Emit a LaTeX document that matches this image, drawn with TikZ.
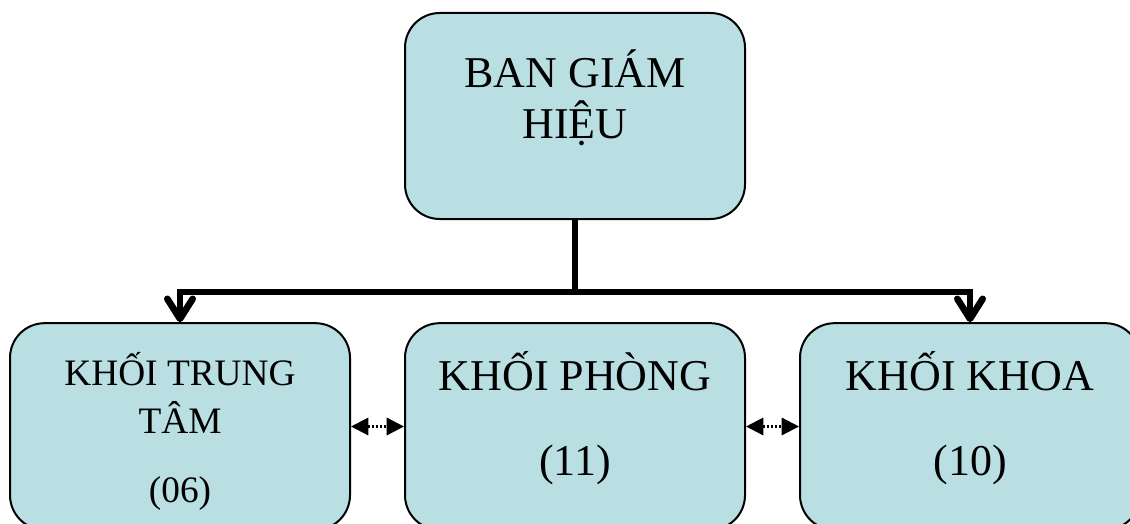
\documentclass[tikz,border=0pt]{standalone}
\usepackage{fontspec}
\setmainfont{Liberation Serif}
\usepackage{tikz}
\usetikzlibrary{arrows.meta,positioning}
\definecolor{boxc}{HTML}{B9DFE3}
\tikzset{
  box/.style={draw=black,line width=1.5pt,rounded corners=26pt,fill=boxc,minimum width=255pt,minimum height=155pt,inner sep=0pt},
  big/.style={font=\fontsize{33}{39}\selectfont,anchor=base,inner sep=0pt},
  small/.style={font=\fontsize{28}{33}\selectfont,anchor=base,inner sep=0pt},
  trunk/.style={line width=4.5pt},
  dn/.style={trunk,-{Straight Barb[length=15pt,width=19pt,line width=5pt,round]}},
  dar/.style={{Triangle[length=13pt,width=13pt]}-{Triangle[length=13pt,width=13pt]},line width=1.6pt,dash pattern=on 1.5pt off 1.5pt}
}

\begin{document}
\begin{tikzpicture}[x=0.75pt,y=-0.75pt]
\useasboundingbox (0,0) rectangle (1130,524);
\clip (0,0) rectangle (1130,524);
% boxes
\node[box,minimum height=154.5pt] (bgh) at (575,116) {};
\node[box] (kttt) at (180,426.5) {};
\node[box] (kp) at (575,426.5) {};
\node[box] (kk) at (970,426.5) {};
% texts
\node[big] (bgh1) at (575,88) {BAN GIÁM};
\node[big] (bgh2) at (575,138) {HIỆU};
\node[small] (kttt1) at (180,385) {KHỐI TRUNG};
\node[small] (kttt2) at (180,433) {TÂM};
\node[small] (kttt3) at (180,502) {(06)};
\node[big] (kp1) at (575,390) {KHỐI PHÒNG};
\node[big] (kp2) at (575,475) {(11)};
\node[big] (kk1) at (970,390) {KHỐI KHOA};
\node[big] (kk2) at (970,475) {(10)};
% connectors
\coordinate (split) at (575,292);
\draw[trunk] (bgh.south) -- (split);
\draw[dn] (split) -| (kttt.north);
\draw[dn] (split) -| (kk.north);
\draw[dar] (kttt.east) -- (kp.west);
\draw[dar] (kp.east) -- (kk.west);
\end{tikzpicture}
\end{document}
